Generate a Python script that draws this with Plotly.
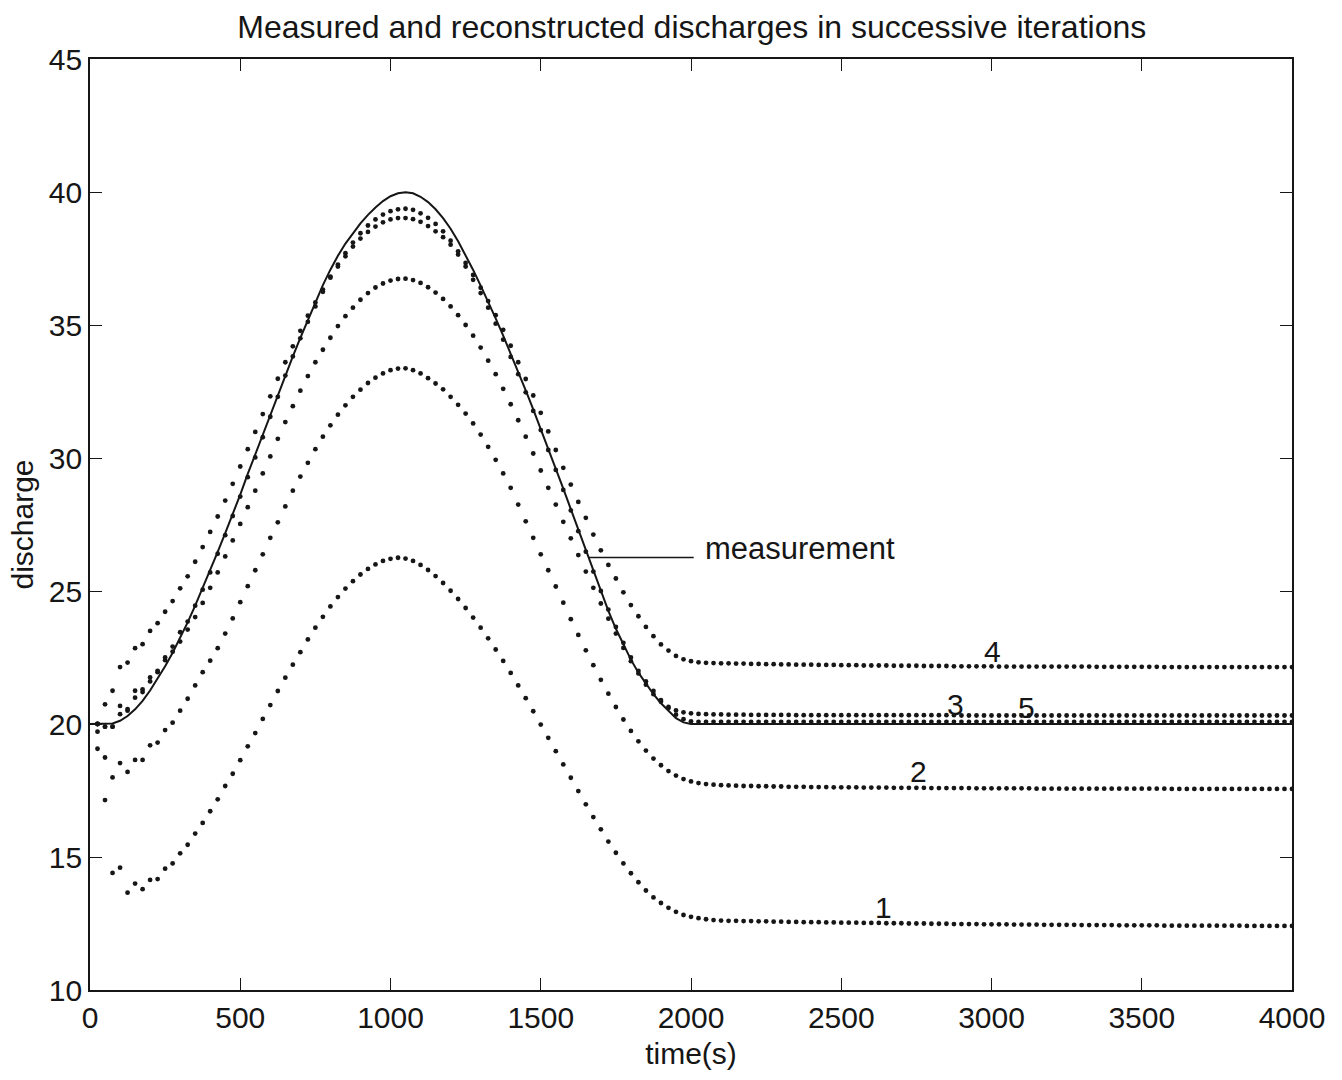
import plotly.graph_objects as go

# Sampling instants (s)
meas_time = list(range(0, 4001, 25))
iter_time = list(range(25, 4001, 25))

# Measured discharge (t = 0, 25, ..., 4000 s)
measured = [
    20.00,
    20.00, 20.00, 20.02, 20.12, 20.30, 20.55, 20.87, 21.26, 21.70, 22.17,
    22.68, 23.22, 23.82, 24.45, 25.10, 25.78, 26.47, 27.18, 27.89, 28.62,
    29.40, 30.15, 30.90, 31.65, 32.40, 33.12, 33.82, 34.52, 35.20, 35.87,
    36.50, 37.08, 37.60, 38.06, 38.46, 38.82, 39.14, 39.42, 39.66, 39.84,
    39.95, 39.99, 39.95, 39.82, 39.62, 39.35, 39.02, 38.62, 38.15, 37.63,
    37.07, 36.48, 35.88, 35.25, 34.60, 33.93, 33.24, 32.54, 31.83, 31.10,
    30.35, 29.60, 28.85, 28.08, 27.30, 26.52, 25.75, 24.98, 24.25, 23.58,
    22.97, 22.42, 21.93, 21.50, 21.12, 20.78, 20.48, 20.22, 20.06, 20.00,
    20.00, 20.00, 20.00, 20.00, 20.00, 20.00, 20.00, 20.00, 20.00, 20.00,
    20.00, 20.00, 20.00, 20.00, 20.00, 20.00, 20.00, 20.00, 20.00, 20.00,
    20.00, 20.00, 20.00, 20.00, 20.00, 20.00, 20.00, 20.00, 20.00, 20.00,
    20.00, 20.00, 20.00, 20.00, 20.00, 20.00, 20.00, 20.00, 20.00, 20.00,
    20.00, 20.00, 20.00, 20.00, 20.00, 20.00, 20.00, 20.00, 20.00, 20.00,
    20.00, 20.00, 20.00, 20.00, 20.00, 20.00, 20.00, 20.00, 20.00, 20.00,
    20.00, 20.00, 20.00, 20.00, 20.00, 20.00, 20.00, 20.00, 20.00, 20.00,
    20.00, 20.00, 20.00, 20.00, 20.00, 20.00, 20.00, 20.00, 20.00, 20.00,
]

# Reconstructed discharges, iterations 1..5 (t = 25, 50, ..., 4000 s)
iteration_1 = [
    19.07, 17.14, 14.40, 14.60, 13.66, 14.00, 13.79, 14.14, 14.17, 14.56,
    14.76, 15.14, 15.46, 15.88, 16.28, 16.72, 17.17, 17.67, 18.13, 18.64,
    19.16, 19.66, 20.19, 20.71, 21.24, 21.74, 22.23, 22.70, 23.18, 23.62,
    24.03, 24.42, 24.77, 25.09, 25.37, 25.62, 25.83, 26.00, 26.13, 26.21,
    26.25, 26.22, 26.13, 25.98, 25.79, 25.56, 25.30, 25.01, 24.70, 24.36,
    24.00, 23.62, 23.22, 22.80, 22.37, 21.92, 21.45, 20.97, 20.48, 19.98,
    19.48, 18.98, 18.48, 17.98, 17.48, 16.98, 16.50, 16.04, 15.58, 15.16,
    14.76, 14.39, 14.05, 13.74, 13.48, 13.27, 13.09, 12.94, 12.82, 12.75,
    12.70, 12.66, 12.63, 12.61, 12.60, 12.60, 12.59, 12.59, 12.58, 12.58,
    12.57, 12.57, 12.56, 12.56, 12.55, 12.55, 12.55, 12.54, 12.54, 12.53,
    12.53, 12.53, 12.52, 12.52, 12.52, 12.51, 12.51, 12.51, 12.50, 12.50,
    12.50, 12.49, 12.49, 12.49, 12.48, 12.48, 12.48, 12.48, 12.47, 12.47,
    12.47, 12.47, 12.46, 12.46, 12.46, 12.46, 12.45, 12.45, 12.45, 12.45,
    12.45, 12.44, 12.44, 12.44, 12.44, 12.44, 12.43, 12.43, 12.43, 12.43,
    12.43, 12.43, 12.42, 12.42, 12.42, 12.42, 12.42, 12.42, 12.42, 12.42,
    12.42, 12.42, 12.42, 12.41, 12.41, 12.41, 12.41, 12.41, 12.41, 12.41,
]

iteration_2 = [
    19.71, 18.74, 17.99, 18.53, 18.20, 18.65, 18.65, 19.20, 19.30, 19.77,
    20.05, 20.50, 20.95, 21.45, 21.95, 22.38, 22.85, 23.40, 23.97, 24.58,
    25.18, 25.78, 26.38, 27.00, 27.58, 28.18, 28.77, 29.30, 29.82, 30.33,
    30.80, 31.23, 31.63, 31.98, 32.30, 32.57, 32.82, 33.02, 33.18, 33.30,
    33.36, 33.37, 33.30, 33.18, 33.00, 32.80, 32.58, 32.30, 32.00, 31.67,
    31.30, 30.88, 30.42, 29.93, 29.42, 28.88, 28.25, 27.62, 27.00, 26.38,
    25.78, 25.17, 24.56, 23.94, 23.35, 22.77, 22.21, 21.66, 21.14, 20.64,
    20.17, 19.74, 19.35, 19.00, 18.70, 18.45, 18.23, 18.06, 17.93, 17.84,
    17.78, 17.74, 17.72, 17.70, 17.69, 17.68, 17.67, 17.67, 17.66, 17.66,
    17.65, 17.65, 17.64, 17.64, 17.64, 17.63, 17.63, 17.63, 17.62, 17.62,
    17.62, 17.62, 17.61, 17.61, 17.61, 17.61, 17.60, 17.60, 17.60, 17.60,
    17.60, 17.59, 17.59, 17.59, 17.59, 17.59, 17.59, 17.58, 17.58, 17.58,
    17.58, 17.58, 17.58, 17.58, 17.58, 17.57, 17.57, 17.57, 17.57, 17.57,
    17.57, 17.57, 17.57, 17.57, 17.57, 17.57, 17.57, 17.57, 17.57, 17.57,
    17.57, 17.57, 17.57, 17.56, 17.56, 17.56, 17.56, 17.56, 17.56, 17.56,
    17.56, 17.56, 17.56, 17.56, 17.56, 17.56, 17.56, 17.56, 17.56, 17.56,
]

iteration_3 = [
    20.00, 19.90, 19.90, 20.37, 20.50, 20.99, 21.20, 21.60, 21.95, 22.40,
    22.72, 23.10, 23.55, 24.02, 24.55, 25.12, 25.70, 26.30, 26.90, 27.52,
    28.15, 28.77, 29.42, 30.06, 30.72, 31.35, 31.95, 32.53, 33.08, 33.60,
    34.07, 34.52, 34.96, 35.33, 35.65, 35.95, 36.20, 36.41, 36.56, 36.67,
    36.73, 36.74, 36.69, 36.58, 36.42, 36.22, 35.98, 35.70, 35.37, 35.00,
    34.60, 34.15, 33.66, 33.15, 32.60, 32.02, 31.42, 30.80, 30.17, 29.53,
    28.88, 28.25, 27.60, 26.98, 26.35, 25.73, 25.12, 24.53, 23.96, 23.40,
    22.86, 22.36, 21.90, 21.48, 21.12, 20.84, 20.64, 20.51, 20.44, 20.40,
    20.38, 20.37, 20.36, 20.36, 20.35, 20.35, 20.35, 20.34, 20.34, 20.34,
    20.34, 20.34, 20.34, 20.33, 20.33, 20.33, 20.33, 20.33, 20.33, 20.33,
    20.33, 20.33, 20.33, 20.33, 20.33, 20.33, 20.33, 20.33, 20.33, 20.33,
    20.33, 20.33, 20.33, 20.33, 20.33, 20.32, 20.32, 20.32, 20.32, 20.32,
    20.32, 20.32, 20.32, 20.32, 20.32, 20.32, 20.32, 20.32, 20.32, 20.32,
    20.32, 20.32, 20.32, 20.32, 20.32, 20.32, 20.32, 20.32, 20.32, 20.32,
    20.32, 20.32, 20.32, 20.32, 20.32, 20.32, 20.32, 20.32, 20.32, 20.32,
    20.32, 20.32, 20.32, 20.32, 20.32, 20.32, 20.32, 20.32, 20.32, 20.32,
]

iteration_4 = [
    20.00, 20.74, 21.25, 22.14, 22.31, 22.85, 23.00, 23.50, 23.79, 24.22,
    24.62, 25.10, 25.55, 26.10, 26.65, 27.22, 27.80, 28.40, 29.03, 29.68,
    30.33, 30.98, 31.65, 32.32, 32.98, 33.60, 34.20, 34.78, 35.35, 35.85,
    36.33, 36.82, 37.27, 37.70, 38.10, 38.45, 38.74, 38.97, 39.15, 39.28,
    39.35, 39.37, 39.33, 39.20, 39.03, 38.80, 38.52, 38.17, 37.77, 37.33,
    36.88, 36.40, 35.90, 35.37, 34.82, 34.22, 33.60, 32.97, 32.35, 31.70,
    31.00, 30.30, 29.63, 29.00, 28.35, 27.75, 27.12, 26.53, 25.98, 25.47,
    24.95, 24.47, 24.05, 23.65, 23.30, 22.99, 22.76, 22.56, 22.43, 22.36,
    22.32, 22.30, 22.29, 22.28, 22.28, 22.27, 22.27, 22.26, 22.26, 22.25,
    22.25, 22.24, 22.24, 22.23, 22.23, 22.23, 22.22, 22.22, 22.22, 22.21,
    22.21, 22.21, 22.20, 22.20, 22.20, 22.20, 22.19, 22.19, 22.19, 22.19,
    22.18, 22.18, 22.18, 22.18, 22.17, 22.17, 22.17, 22.17, 22.17, 22.17,
    22.16, 22.16, 22.16, 22.16, 22.16, 22.16, 22.16, 22.16, 22.16, 22.16,
    22.16, 22.16, 22.16, 22.15, 22.15, 22.15, 22.15, 22.15, 22.15, 22.15,
    22.15, 22.15, 22.14, 22.14, 22.14, 22.14, 22.14, 22.14, 22.14, 22.14,
    22.14, 22.14, 22.14, 22.14, 22.14, 22.14, 22.14, 22.14, 22.14, 22.14,
]

iteration_5 = [
    20.00, 19.90, 19.90, 20.68, 20.56, 21.25, 21.30, 21.75, 22.00, 22.50,
    22.91, 23.45, 23.85, 24.45, 25.05, 25.70, 26.40, 27.10, 27.82, 28.55,
    29.28, 30.02, 30.78, 31.55, 32.30, 33.10, 33.82, 34.50, 35.12, 35.70,
    36.25, 36.78, 37.20, 37.58, 37.95, 38.25, 38.50, 38.70, 38.86, 38.97,
    39.02, 39.02, 38.98, 38.88, 38.72, 38.52, 38.30, 38.02, 37.65, 37.20,
    36.70, 36.20, 35.65, 35.05, 34.45, 33.80, 33.15, 32.47, 31.77, 31.05,
    30.30, 29.55, 28.80, 28.03, 27.25, 26.48, 25.73, 25.00, 24.30, 23.65,
    23.05, 22.50, 22.00, 21.60, 21.24, 20.90, 20.60, 20.35, 20.18, 20.10,
    20.08, 20.08, 20.08, 20.08, 20.08, 20.08, 20.08, 20.08, 20.08, 20.08,
    20.08, 20.08, 20.08, 20.08, 20.08, 20.08, 20.08, 20.08, 20.08, 20.08,
    20.08, 20.08, 20.08, 20.08, 20.08, 20.08, 20.08, 20.08, 20.08, 20.08,
    20.08, 20.08, 20.08, 20.08, 20.08, 20.08, 20.08, 20.08, 20.08, 20.08,
    20.08, 20.08, 20.08, 20.08, 20.08, 20.08, 20.08, 20.08, 20.08, 20.08,
    20.08, 20.08, 20.08, 20.08, 20.08, 20.08, 20.08, 20.08, 20.08, 20.08,
    20.08, 20.08, 20.08, 20.08, 20.08, 20.08, 20.08, 20.08, 20.08, 20.08,
    20.08, 20.08, 20.08, 20.08, 20.08, 20.08, 20.08, 20.08, 20.08, 20.08,
]

iteration_names = ["1", "2", "3", "4", "5"]
iterations = [iteration_1, iteration_2, iteration_3, iteration_4, iteration_5]

x_ticks = [0, 500, 1000, 1500, 2000, 2500, 3000, 3500, 4000]
y_ticks = [10, 15, 20, 25, 30, 35, 40, 45]

assert len(measured) == len(meas_time)
for series in iterations:
    assert len(series) == len(iter_time)

INK = "#161616"
FONT = "Liberation Sans, Arial, Helvetica, sans-serif"

fig = go.Figure()

for name, series in zip(iteration_names, iterations):
    fig.add_trace(go.Scatter(
        x=iter_time, y=series, mode="markers", name="iteration " + name,
        marker=dict(size=4.8, color=INK, line=dict(width=0)),
        hoverinfo="skip",
    ))

fig.add_trace(go.Scatter(
    x=meas_time, y=measured, mode="lines", name="measurement",
    line=dict(color=INK, width=2),
    hoverinfo="skip",
))

# iteration numbers written next to the flat tails
label_spots = [(2640, 13.1), (2758, 18.2), (2881, 20.75), (3002, 22.72), (3117, 20.63)]
for name, (lx, ly) in zip(iteration_names, label_spots):
    fig.add_annotation(x=lx, y=ly, text=name, showarrow=False,
                       xanchor="center", yanchor="middle",
                       font=dict(family=FONT, size=30, color=INK))

# pointer from the measured curve to its caption
fig.add_shape(type="line", xref="x", yref="y", x0=1660, x1=2009, y0=26.26, y1=26.26,
              line=dict(color=INK, width=1.6))
fig.add_annotation(x=2040, y=26.6, text="measurement", showarrow=False,
                   xanchor="left", yanchor="middle",
                   font=dict(family=FONT, size=31, color=INK))

axis_common = dict(
    showgrid=False, zeroline=False, showline=True, linecolor=INK, linewidth=1.6,
    mirror="ticks", ticks="inside", ticklen=12, tickwidth=1.4, tickcolor=INK,
    tickfont=dict(family=FONT, size=30, color=INK),
)

fig.update_xaxes(range=[0, 4000], tickvals=x_ticks, ticktext=[str(v) for v in x_ticks],
                 title=dict(text="time(s)", font=dict(family=FONT, size=30, color=INK), standoff=10),
                 **axis_common)
fig.update_yaxes(range=[10, 45], tickvals=y_ticks, ticktext=[str(v) for v in y_ticks],
                 title=dict(text="discharge", font=dict(family=FONT, size=30, color=INK), standoff=6),
                 **axis_common)

fig.update_layout(
    width=1342, height=1080,
    margin=dict(l=90, r=50, t=59, b=90, autoexpand=False),
    paper_bgcolor="white", plot_bgcolor="white",
    showlegend=False,
    font=dict(family=FONT, color=INK),
    title=dict(text="Measured and reconstructed discharges in successive iterations",
               x=0.5155, xanchor="center", y=0.975, yanchor="middle",
               font=dict(family=FONT, size=32, color=INK)),
)

fig.write_html("out.html", config={"displayModeBar": False})
